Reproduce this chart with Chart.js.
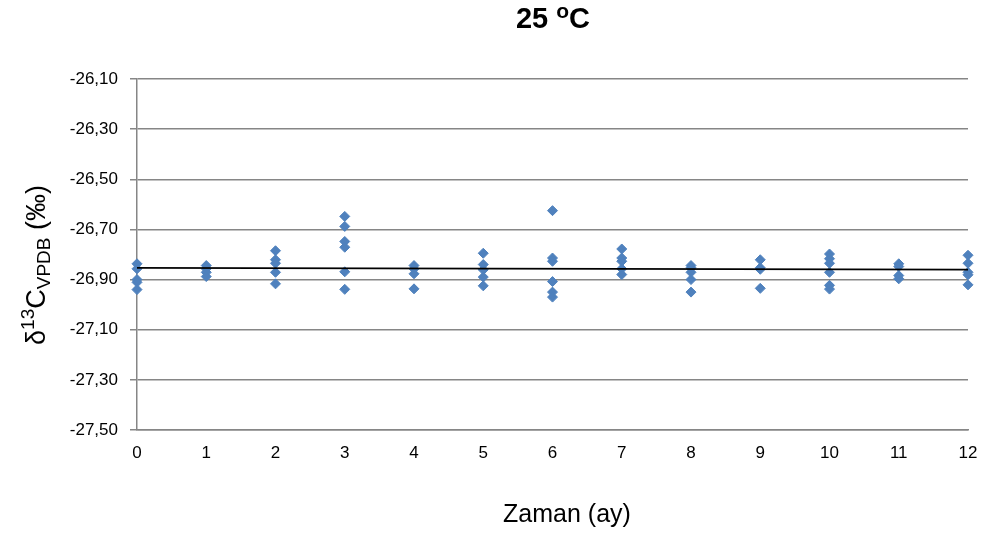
<!DOCTYPE html>
<html>
<head>
<meta charset="utf-8">
<script src="https://cdn.jsdelivr.net/npm/chart.js@4.4.1/dist/chart.umd.min.js"></script>
<style>
html,body{margin:0;padding:0;background:#fff;}
canvas{display:block;}
</style>
</head>
<body>
<canvas id="c" width="986" height="537"></canvas>
<script>
// Months (x categories)
const months = [0, 1, 2, 3, 4, 5, 6, 7, 8, 9, 10, 11, 12];
// δ13C values measured at each month
const m0  = [-26.837, -26.857, -26.900, -26.911, -26.940];
const m1  = [-26.844, -26.857, -26.871, -26.888];
const m2  = [-26.785, -26.821, -26.835, -26.871, -26.917];
const m3  = [-26.648, -26.688, -26.748, -26.771, -26.869, -26.939];
const m4  = [-26.844, -26.857, -26.877, -26.937];
const m5  = [-26.795, -26.840, -26.861, -26.890, -26.925];
const m6  = [-26.625, -26.814, -26.827, -26.908, -26.950, -26.970];
const m7  = [-26.778, -26.814, -26.827, -26.857, -26.880];
const m8  = [-26.844, -26.853, -26.871, -26.900, -26.950];
const m9  = [-26.821, -26.853, -26.859, -26.935];
const m10 = [-26.798, -26.817, -26.835, -26.871, -26.923, -26.938];
const m11 = [-26.837, -26.848, -26.884, -26.897];
const m12 = [-26.803, -26.835, -26.871, -26.881, -26.921];
const valuesByMonth = [m0, m1, m2, m3, m4, m5, m6, m7, m8, m9, m10, m11, m12];
// Linear trend line endpoints
const trendX = [0, 12];
const trendY = [-26.853, -26.860];
// Y axis ticks
const yTicks = [-27.50, -27.30, -27.10, -26.90, -26.70, -26.50, -26.30, -26.10];

const scatterPoints = [];
months.forEach((m, i) => valuesByMonth[i].forEach(v => scatterPoints.push({x: m, y: v})));
const trendPoints = trendX.map((x, i) => ({x: x, y: trendY[i]}));

const FONT = "'Liberation Sans', Arial, sans-serif";

function drawRich(ctx, parts, cx, cy) {
  let total = 0;
  parts.forEach(p => {
    ctx.font = (p.bold ? 'bold ' : '') + p.size + 'px ' + FONT;
    p.w = ctx.measureText(p.t).width;
    total += p.w;
  });
  let x = cx - total / 2;
  parts.forEach(p => {
    ctx.font = (p.bold ? 'bold ' : '') + p.size + 'px ' + FONT;
    ctx.fillText(p.t, x, cy + p.dy);
    x += p.w;
  });
}

const titlesPlugin = {
  id: 'titles',
  afterDraw(chart) {
    const ctx = chart.ctx;
    ctx.save();
    ctx.fillStyle = '#000';
    ctx.textBaseline = 'alphabetic';
    ctx.textAlign = 'left';
    // Main title
    drawRich(ctx, [
      {t: '25 ', size: 29, bold: true, dy: 0},
      {t: 'o', size: 21, bold: true, dy: -10},
      {t: 'C', size: 29, bold: true, dy: 0}
    ], 553, 28);
    // X axis title
    drawRich(ctx, [{t: 'Zaman (ay)', size: 25, bold: false, dy: 0}], 567, 522);
    // Y axis title (rotated)
    ctx.translate(45, 265);
    ctx.rotate(-Math.PI / 2);
    drawRich(ctx, [
      {t: 'δ', size: 27, bold: false, dy: 0},
      {t: '13', size: 19, bold: false, dy: -11},
      {t: 'C', size: 27, bold: false, dy: 0},
      {t: 'VPDB', size: 19, bold: false, dy: 5},
      {t: ' (‰)', size: 27, bold: false, dy: 0}
    ], 0, 0);
    ctx.restore();
  }
};

new Chart(document.getElementById('c'), {
  type: 'scatter',
  data: {
    datasets: [
      {
        label: 'Trend',
        data: trendPoints,
        showLine: true,
        borderColor: '#000000',
        borderWidth: 1.8,
        pointRadius: 0,
        fill: false,
        clip: false,
        order: 0
      },
      {
        label: 'δ13C',
        data: scatterPoints,
        pointStyle: 'rectRot',
        pointRadius: 5,
        pointBackgroundColor: '#4F81BD',
        pointBorderColor: '#4F81BD',
        pointBorderWidth: 1,
        showLine: false,
        clip: false,
        order: 1
      }
    ]
  },
  options: {
    responsive: false,
    animation: false,
    devicePixelRatio: 1,
    layout: {padding: {top: 79, right: 18, left: 0, bottom: 0}},
    plugins: {
      legend: {display: false},
      tooltip: {enabled: false},
      title: {display: false}
    },
    scales: {
      x: {
        type: 'linear',
        min: months[0],
        max: months[months.length - 1],
        afterFit(s) { s.height = 107; s.paddingRight = 0; s.paddingLeft = 0; },
        grid: {display: false, drawTicks: false},
        border: {display: true, color: '#868686', width: 1.5},
        ticks: {
          stepSize: 1,
          padding: 13,
          color: '#000',
          font: {family: FONT, size: 17},
          maxRotation: 0
        }
      },
      y: {
        type: 'linear',
        min: yTicks[0],
        max: yTicks[yTicks.length - 1],
        afterFit(s) { s.width = 137; },
        afterBuildTicks(s) { s.ticks = yTicks.map(v => ({value: v})); },
        grid: {color: '#868686', lineWidth: 1.5, drawTicks: true, tickLength: 7, tickColor: '#868686'},
        border: {display: true, color: '#868686', width: 1.5},
        ticks: {
          padding: 12,
          color: '#000',
          font: {family: FONT, size: 17},
          callback: v => v.toFixed(2).replace('.', ',')
        }
      }
    }
  },
  plugins: [titlesPlugin]
});
</script>
</body>
</html>
